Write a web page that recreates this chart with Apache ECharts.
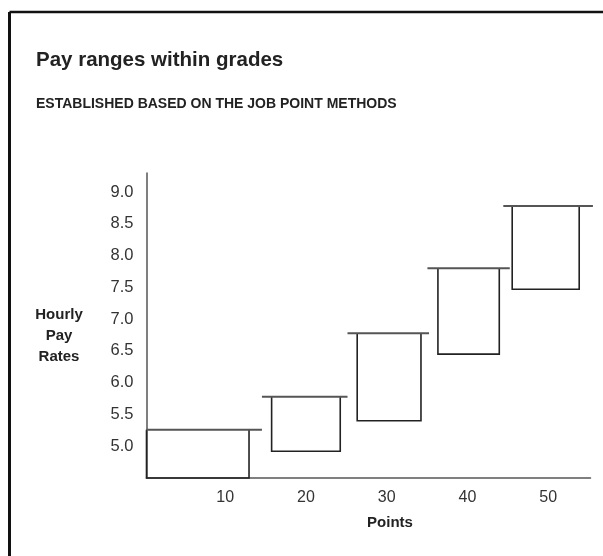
<!DOCTYPE html>
<html>
<head>
<meta charset="utf-8">
<script src="https://cdn.jsdelivr.net/npm/echarts@6/dist/echarts.min.js"></script>
<style>
html,body{margin:0;padding:0;background:#fff;}
#chart{width:603px;height:556px;}
</style>
</head>
<body>
<div id="chart"></div>
<script>
// ---- data ----
const grades = ['Grade 1', 'Grade 2', 'Grade 3', 'Grade 4', 'Grade 5'];
// point range of each grade (extent of the top line)
const pointLow  = [0,    14.3, 24.9, 34.8, 44.2];
const pointHigh = [14.3, 24.9, 35.0, 45.0, 55.3];
// point range covered by the box body
const boxLow  = [0,    15.5, 26.1, 36.1, 45.3];
const boxHigh = [12.7, 24.0, 34.0, 43.7, 53.6];
// hourly pay range
const payMin = [4.5,  4.92, 5.40, 6.45, 7.47];
const payMax = [5.26, 5.78, 6.78, 7.80, 8.78];

const xTickLabels = ['10', '20', '30', '40', '50'];
const yTickLabels = ['5.0', '5.5', '6.0', '6.5', '7.0', '7.5', '8.0', '8.5', '9.0'];

const FONT = '"Liberation Sans", Arial, sans-serif';

const seriesData = grades.map((g, i) => [pointLow[i], pointHigh[i], boxLow[i], boxHigh[i], payMin[i], payMax[i]]);

const chart = echarts.init(document.getElementById('chart'), null, {renderer: 'canvas'});

chart.setOption({
  animation: false,
  backgroundColor: '#fff',
  title: [
    {
      text: 'Pay ranges within grades',
      left: 31, top: 45,
      textStyle: {fontFamily: FONT, fontWeight: 'bold', fontSize: 20.5, color: '#222'}
    },
    {
      text: 'ESTABLISHED BASED ON THE JOB POINT METHODS',
      left: 31, top: 92,
      textStyle: {fontFamily: FONT, fontWeight: 'bold', fontSize: 14, color: '#222'}
    }
  ],
  grid: {left: 146.5, top: 173, width: 444, height: 305, containLabel: false},
  xAxis: {
    type: 'value', min: 0, max: 55, interval: 10,
    axisLine: {show: true, lineStyle: {color: '#555', width: 1.5}},
    axisTick: {show: false},
    splitLine: {show: false},
    axisLabel: {
      margin: 12, fontFamily: FONT, fontSize: 16, color: '#333',
      padding: [0, 4, 0, 0],
      showMaxLabel: false,
      formatter: v => { const s = String(Math.round(v)); return xTickLabels.indexOf(s) >= 0 ? s : ''; }
    }
  },
  yAxis: {
    type: 'value', min: 4.5, max: 9.3, interval: 0.5,
    axisLine: {show: true, lineStyle: {color: '#555', width: 1.5}},
    axisTick: {show: false},
    splitLine: {show: false},
    axisLabel: {
      margin: 13, fontFamily: FONT, fontSize: 16.5, color: '#333',
      showMaxLabel: false,
      formatter: v => { const s = v.toFixed(1); return yTickLabels.indexOf(s) >= 0 ? s : ''; }
    }
  },
  graphic: [
    {type: 'line', shape: {x1: 9.5, y1: 12, x2: 603, y2: 12}, style: {stroke: '#111', lineWidth: 2.5}},
    {type: 'line', shape: {x1: 9.5, y1: 12, x2: 9.5, y2: 556}, style: {stroke: '#111', lineWidth: 3}},
    {type: 'text', x: 59, y: 304, style: {
      text: 'Hourly\nPay\nRates', align: 'center', verticalAlign: 'top',
      font: 'bold 15px ' + FONT, fill: '#222', lineHeight: 21}},
    {type: 'text', x: 390, y: 515, style: {
      text: 'Points', align: 'center', verticalAlign: 'top',
      font: 'bold 15px ' + FONT, fill: '#222'}}
  ],
  series: [{
    type: 'custom',
    clip: false,
    data: seriesData,
    renderItem: function (params, api) {
      const lo = api.value(0), hi = api.value(1), bl = api.value(2), br = api.value(3);
      const pmin = api.value(4), pmax = api.value(5);
      const tl = api.coord([lo, pmax]), tr = api.coord([hi, pmax]);
      const a = api.coord([bl, pmax]), b = api.coord([br, pmax]);
      const c = api.coord([br, pmin]), d = api.coord([bl, pmin]);
      return {
        type: 'group',
        children: [
          {type: 'polyline', shape: {points: [a, d, c, b]}, style: {stroke: '#222', lineWidth: 1.6, fill: null}},
          {type: 'line', shape: {x1: tl[0], y1: tl[1], x2: tr[0], y2: tr[1]}, style: {stroke: '#555', lineWidth: 2}}
        ]
      };
    }
  }]
});
</script>
</body>
</html>
